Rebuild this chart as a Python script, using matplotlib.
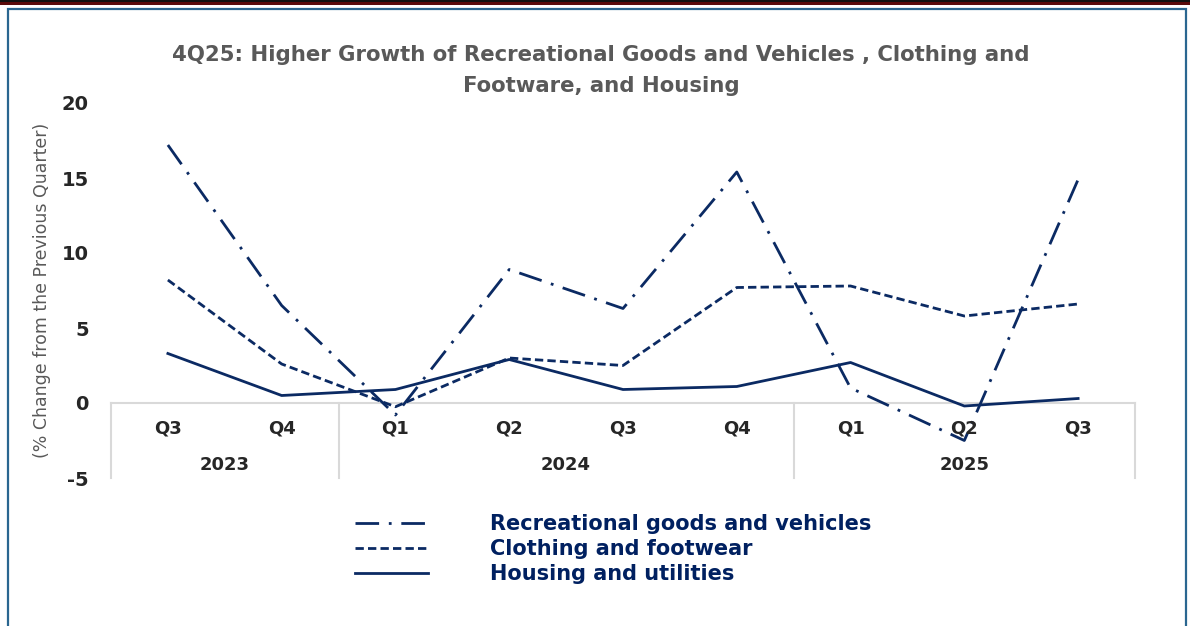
import numpy as np
from matplotlib import pyplot as plt
from matplotlib.patches import Rectangle

plt.rcParams["axes.unicode_minus"] = False

quarters = ["Q3", "Q4", "Q1", "Q2", "Q3", "Q4", "Q1", "Q2", "Q3"]
years = ["2023", "2024", "2025"]
year_spans = [(0, 1), (2, 5), (6, 8)]

recreational = [17.2, 6.5, -0.8, 8.9, 6.3, 15.4, 1.0, -2.5, 14.9]
clothing = [8.2, 2.6, -0.25, 3.0, 2.5, 7.7, 7.8, 5.8, 6.6]
housing = [3.3, 0.5, 0.9, 2.9, 0.9, 1.1, 2.7, -0.2, 0.3]

series_names = ["Recreational goods and vehicles", "Clothing and footwear", "Housing and utilities"]

navy = "#0b2a63"
W, H = 1190, 626
fig = plt.figure(figsize=(W / 100, H / 100), dpi=100)

# frame around the chart
fig.add_artist(Rectangle((0, 1 - 5 / H), 1, 5 / H, transform=fig.transFigure,
                         facecolor="#5a0a0a", edgecolor="none"))
fig.add_artist(Rectangle((0, 1 - 2 / H), 1, 2 / H, transform=fig.transFigure,
                         facecolor="#111111", edgecolor="none"))
fig.add_artist(Rectangle((8 / W, -0.01), (1186 - 8) / W, 1 - 9 / H + 0.01,
                         transform=fig.transFigure, facecolor="none",
                         edgecolor="#2a6690", linewidth=1.6))

left, right, top, bottom = 111, 1135, 103, 478
ax = fig.add_axes([left / W, 1 - bottom / H, (right - left) / W, (bottom - top) / H])

x = np.arange(len(quarters))
lw = 2.0
ax.plot(x, recreational, color=navy, lw=lw, dashes=(8.5, 3.5, 1, 3.5), label=series_names[0])
ax.plot(x, clothing, color=navy, lw=lw, dashes=(3, 1.5), label=series_names[1])
ax.plot(x, housing, color=navy, lw=lw, label=series_names[2])

ax.set_xlim(-0.5, len(quarters) - 0.5)
ax.set_ylim(-5, 20)
ax.set_yticks([-5, 0, 5, 10, 15, 20])
ax.tick_params(axis="y", length=0, pad=16, labelsize=14, labelcolor="#262626")
for t in ax.get_yticklabels():
    t.set_fontweight("bold")
ax.set_xticks([])
for s in ax.spines.values():
    s.set_visible(False)

# multi-level category axis
grey = "#d9d9d9"
ax.plot([-0.5, len(quarters) - 0.5], [0, 0], color=grey, lw=1.5, clip_on=False, zorder=1)
for b in [-0.5, 1.5, 5.5, 8.5]:
    ax.plot([b, b], [0, -5], color=grey, lw=1.5, clip_on=False, zorder=1)
for i, q in enumerate(quarters):
    ax.text(i, -1.7, q, ha="center", va="center", fontsize=13, fontweight="bold", color="#262626")
for yr, (a, b) in zip(years, year_spans):
    ax.text((a + b) / 2, -4.15, yr, ha="center", va="center", fontsize=13,
            fontweight="bold", color="#262626")

fig.text(42 / W, 1 - 290 / H, "(% Change from the Previous Quarter)", rotation=90,
         ha="center", va="center", fontsize=12.5, color="#595959")

fig.text(601 / W, 1 - 45 / H,
         "4Q25: Higher Growth of Recreational Goods and Vehicles , Clothing and\nFootware, and Housing",
         ha="center", va="top", fontsize=15.3, fontweight="bold", color="#595959",
         linespacing=1.7)

leg = fig.legend(loc="upper left", bbox_to_anchor=(355 / W, 1 - 514 / H), frameon=False,
                 fontsize=15, handlelength=3.5, handletextpad=3.0, labelspacing=0.25,
                 borderpad=0, borderaxespad=0)
for t in leg.get_texts():
    t.set_color("#002060")
    t.set_fontweight("bold")

fig.savefig("out.png", dpi=100)
